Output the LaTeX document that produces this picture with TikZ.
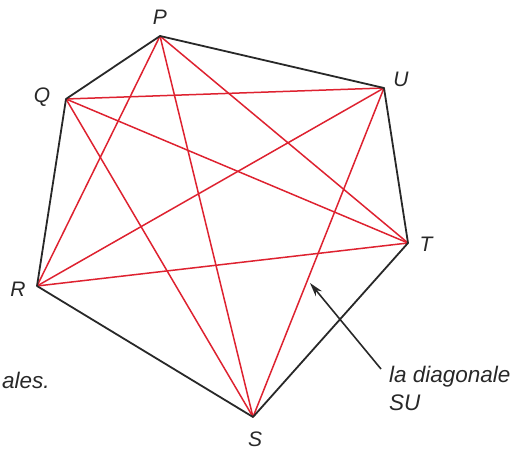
\documentclass[tikz,border=0pt]{standalone}
\usepackage{fontspec}
\setmainfont{Liberation Sans}
\usetikzlibrary{arrows.meta}
\definecolor{diagred}{RGB}{222,34,48}
\definecolor{edgegray}{RGB}{40,40,40}
\begin{document}
\begin{tikzpicture}[x=1pt,y=-1pt,
  edge/.style={line width=1.8pt, draw=edgegray, line join=round},
  diag/.style={line width=1.5pt, draw=diagred},
  lab/.style={font=\fontsize{21}{24}\selectfont\itshape, inner sep=0pt, text=edgegray},
  note/.style={font=\fontsize{22.5}{28}\selectfont\itshape, inner sep=0pt, align=left, text=edgegray},
  pointer/.style={line width=1.6pt, draw=edgegray, -{Stealth[length=14pt,width=8pt]}}]
\useasboundingbox (0,0) rectangle (519,452);
\coordinate (P) at (160,36);
\coordinate (U) at (384,88);
\coordinate (T) at (408,243);
\coordinate (S) at (253,417);
\coordinate (R) at (37,286);
\coordinate (Q) at (66,99);
% diagonals
\foreach \a/\b in {P/T,P/S,P/R,Q/U,Q/T,Q/S,R/U,R/T,S/U}
  \draw[diag] (\a) -- (\b);
% sides
\draw[edge] (P) -- (U) -- (T) -- (S) -- (R) -- (Q) -- cycle;
% labels
\node[lab] (lP) at (160,17) {P};
\node[lab] (lU) at (401,79) {U};
\node[lab] (lT) at (426,244) {T};
\node[lab] (lS) at (255,439) {S};
\node[lab] (lR) at (18,289) {R};
\node[lab] (lQ) at (42,97) {Q};
% note
\node[note, anchor=north west] (note) at (389,366) {la diagonale\\SU};
\node[note, anchor=west] (cut) at (2,380) {ales.};
\coordinate (tail) at (381,369);
\coordinate (tip) at (310,283);
\draw[pointer] (tail) -- (tip);
\end{tikzpicture}
\end{document}
